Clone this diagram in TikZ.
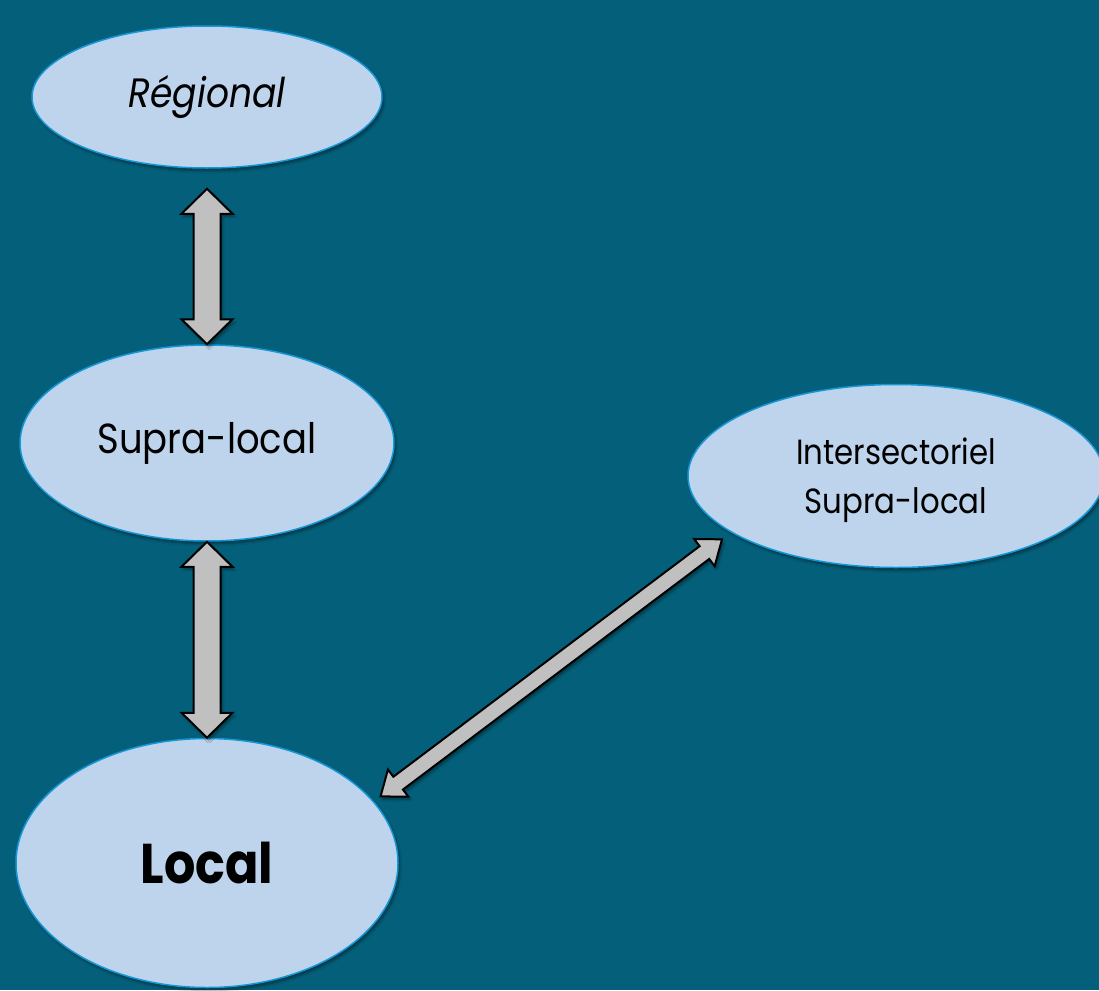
\documentclass[tikz,border=0pt]{standalone}
\usepackage{fontspec}
\setmainfont{Poppins}[FakeStretch=0.88]
\usepackage{tikz}
\usetikzlibrary{shapes, positioning, calc, shadows, shadows.blur}

\definecolor{slide}{RGB}{4,96,122}
\definecolor{bubble}{RGB}{189,212,236}
\definecolor{rim}{RGB}{20,150,215}
\definecolor{shaft}{RGB}{192,192,192}

% #1,#2 tips, #3 head length, #4 half head, #5 half shaft
\newcommand\fatarrow[5]{%
  \draw[fatarrow] (#1)
    -- ($(#1)!#3!(#2)!#4!90:(#2)$)
    -- ($(#1)!#3!(#2)!#5!90:(#2)$)
    -- ($(#2)!#3!(#1)!#5!-90:(#1)$)
    -- ($(#2)!#3!(#1)!#4!-90:(#1)$)
    -- (#2)
    -- ($(#2)!#3!(#1)!#4!90:(#1)$)
    -- ($(#2)!#3!(#1)!#5!90:(#1)$)
    -- ($(#1)!#3!(#2)!#5!-90:(#2)$)
    -- ($(#1)!#3!(#2)!#4!-90:(#2)$)
    -- cycle;}

\begin{document}
\begin{tikzpicture}[x=1pt, y=-1pt,
    layer/.style={ellipse, draw=rim, line width=1.5pt, fill=bubble, inner sep=0pt,
      align=center, text=black,
      blur shadow={shadow xshift=2pt, shadow yshift=-3pt, shadow blur steps=6}},
    fatarrow/.style={draw=black, line width=2pt, fill=shaft, line join=miter,
      blur shadow={shadow xshift=2pt, shadow yshift=-3pt, shadow blur steps=5}}]
  \fill[slide] (0,0) rectangle (1099,990);
  \useasboundingbox (0,0) rectangle (1099,990);

  \node[layer, minimum width=350pt, minimum height=142pt,
    font=\fontsize{41}{48}\selectfont\itshape] (l_reg) at (207,97) {Régional};
  \node[layer, minimum width=374pt, minimum height=196pt,
    font=\fontsize{42}{48}\selectfont] (l_sup) at (207,443) {Supra-local};
  \node[layer, minimum width=382pt, minimum height=249pt,
    font=\fontsize{56}{64}\selectfont\bfseries] (l_loc) at (207,863) {Local};
  \node[layer, minimum width=416pt, minimum height=183pt, text depth=0pt,
    font=\fontsize{35}{49}\selectfont] (l_int) at (896,476) {Intersectoriel\\Supra-local};

  \coordinate (t_1) at ([yshift=-20pt]l_reg.south);
  \coordinate (t_2) at ($(l_int.center)!1.08!(l_int.200)$);
  \coordinate (t_3) at ($(l_loc.center)!1.05!(l_loc.21)$);
  \fatarrow{t_1}{l_sup.north}{25pt}{25.5pt}{13.5pt}
  \fatarrow{l_sup.south}{l_loc.north}{25pt}{25.5pt}{13.5pt}
  \fatarrow{t_2}{t_3}{22pt}{17pt}{8pt}
\end{tikzpicture}
\end{document}
